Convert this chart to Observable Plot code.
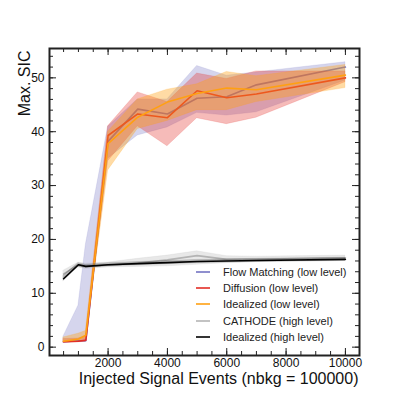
<!DOCTYPE html>
<html>
<head>
<meta charset="utf-8">
<script src="https://cdn.jsdelivr.net/npm/d3@7"></script>
<script src="https://cdn.jsdelivr.net/npm/@observablehq/plot@0.6"></script>
<style>
  body { margin: 0; background: #fff; }
  #wrap { position: relative; width: 399px; height: 399px; font-family: "Liberation Sans", Arial, Helvetica, sans-serif; }
  #legend { position: absolute; left: 196px; top: 264px; font-size: 11px; color: #222; }
  #legend .row { display: flex; align-items: center; height: 16.2px; white-space: nowrap; }
  #legend svg { margin-right: 13px; }
</style>
</head>
<body>
<div id="wrap"></div>
<script>
// Injected signal events (x values)
const signalEvents = [500, 1000, 1250, 2000, 3000, 4000, 5000, 6000, 7000, 10000];

// Flow Matching (low level)
const flowMean = [1.0, 1.2, 1.2, 38.2, 44.2, 43.3, 46.2, 46.5, 48.7, 52.0];
const flowLow  = [0.8, 1.0, 1.0, 35.0, 39.3, 40.8, 43.5, 43.0, 43.6, 49.5];
const flowHigh = [2.0, 7.7, 19.0, 40.9, 46.0, 46.0, 52.2, 50.4, 51.0, 52.9];

// Diffusion (low level)
const diffMean = [1.0, 1.1, 1.3, 39.3, 43.3, 42.6, 47.6, 46.3, 47.0, 50.0];
const diffLow  = [0.8, 0.9, 1.0, 34.5, 41.0, 37.3, 42.5, 41.4, 42.6, 49.2];
const diffHigh = [1.5, 1.6, 2.0, 41.0, 47.3, 45.5, 50.8, 49.8, 51.2, 51.2];

// Idealized (low level)
const idealLoMean = [1.1, 1.5, 2.2, 37.8, 42.7, 45.5, 47.1, 48.1, 47.8, 50.5];
const idealLoLow  = [0.9, 1.2, 1.5, 32.8, 40.5, 42.0, 44.0, 44.0, 45.5, 48.1];
const idealLoHigh = [1.8, 2.5, 3.0, 40.0, 46.0, 47.8, 48.8, 51.1, 50.3, 52.4];

// CATHODE (high level)
const cathMean = [13.6, 15.3, 15.0, 15.2, 15.6, 16.2, 17.0, 16.3, 16.3, 16.6];
const cathLow  = [12.8, 14.8, 14.5, 14.8, 14.9, 15.0, 15.3, 15.6, 15.8, 16.1];
const cathHigh = [14.2, 15.7, 15.5, 15.7, 16.4, 17.0, 17.8, 16.9, 16.8, 17.0];

// Idealized (high level)
const idealHiMean = [12.7, 15.3, 15.0, 15.3, 15.5, 15.7, 15.9, 16.0, 16.1, 16.3];
const idealHiLow  = [12.3, 14.9, 14.7, 15.0, 15.2, 15.4, 15.6, 15.7, 15.8, 16.0];
const idealHiHigh = [13.3, 15.6, 15.3, 15.6, 15.8, 16.0, 16.2, 16.3, 16.4, 16.6];

const seriesNames = ["Flow Matching (low level)", "Diffusion (low level)", "Idealized (low level)", "CATHODE (high level)", "Idealized (high level)"];
const seriesColors = ["#7373c2", "#e32d25", "#ffa012", "#b4b4b4", "#000000"];
const bandOpacity = [0.3, 0.32, 0.38, 0.3, 0.2];

const xMajor = [2000, 4000, 6000, 8000, 10000];
const xMinor = d3.range(500, 10001, 500);
const yMajor = [0, 10, 20, 30, 40, 50];
const yMinor = d3.range(0, 55, 2);

const xLabel = "Injected Signal Events (nbkg = 100000)";
const yLabel = "Max. SIC";

const seriesData = [
  [flowMean, flowLow, flowHigh],
  [diffMean, diffLow, diffHigh],
  [idealLoMean, idealLoLow, idealLoHigh],
  [cathMean, cathLow, cathHigh],
  [idealHiMean, idealHiLow, idealHiHigh]
];
const tables = seriesData.map(([m, lo, hi]) => signalEvents.map((x, i) => ({x, y: m[i], lo: lo[i], hi: hi[i]})));

const W = 399, H = 399, mL = 49, mR = 40, mT = 48, mB = 44;
const frameW = W - mL - mR, frameH = H - mT - mB;
const majorLen = 7, minorLen = 4;

const marks = [];
tables.forEach((t, k) => {
  marks.push(Plot.areaY(t, {x: "x", y1: "lo", y2: "hi", fill: seriesColors[k], fillOpacity: bandOpacity[k], stroke: seriesColors[k], strokeOpacity: bandOpacity[k] * 0.6, strokeWidth: 0.8}));
  marks.push(Plot.line(t, {x: "x", y: "y", stroke: seriesColors[k], strokeWidth: 1.6}));
});

const tickStyle = {stroke: "#222", strokeWidth: 1};
marks.push(
  // tick labels
  Plot.axisX(xMajor, {anchor: "bottom", tickSize: 0, tickPadding: 3, fontSize: 12, tickFormat: d3.format("d"), label: null}),
  Plot.axisY(yMajor, {anchor: "left", tickSize: 0, tickPadding: 5, fontSize: 12, tickFormat: d3.format("d"), label: null}),
  // inward ticks on all four sides
  Plot.tickX(xMajor, {x: d => d, insetTop: frameH - majorLen, ...tickStyle}),
  Plot.tickX(xMinor, {x: d => d, insetTop: frameH - minorLen, ...tickStyle}),
  Plot.tickX(xMajor, {x: d => d, insetBottom: frameH - majorLen, ...tickStyle}),
  Plot.tickX(xMinor, {x: d => d, insetBottom: frameH - minorLen, ...tickStyle}),
  Plot.tickY(yMajor, {y: d => d, insetRight: frameW - majorLen, ...tickStyle}),
  Plot.tickY(yMinor, {y: d => d, insetRight: frameW - minorLen, ...tickStyle}),
  Plot.tickY(yMajor, {y: d => d, insetLeft: frameW - majorLen, ...tickStyle}),
  Plot.tickY(yMinor, {y: d => d, insetLeft: frameW - minorLen, ...tickStyle}),
  Plot.frame({stroke: "#222", strokeWidth: 2}),
  Plot.text([yLabel], {frameAnchor: "top-left", rotate: -90, textAnchor: "end", dx: -31, dy: 2, fontSize: 16, fill: "#111"}),
  Plot.text([xLabel], {frameAnchor: "bottom-right", textAnchor: "end", dx: -1, dy: 28, fontSize: 16, fill: "#111"})
);

const chart = Plot.plot({
  width: W,
  height: H,
  marginLeft: mL,
  marginRight: mR,
  marginTop: mT,
  marginBottom: mB,
  style: {fontFamily: "'Liberation Sans', Arial, Helvetica, sans-serif", fontSize: "12px", color: "#111", background: "#fff"},
  x: {domain: [25, 10475]},
  y: {domain: [-1.55, 55.45]},
  marks
});

const wrap = document.getElementById("wrap");
wrap.appendChild(chart);

// Legend (inside the axes, lower right)
const legend = document.createElement("div");
legend.id = "legend";
seriesNames.forEach((name, k) => {
  const row = document.createElement("div");
  row.className = "row";
  row.innerHTML = `<svg width="14" height="4"><line x1="0" x2="14" y1="2" y2="2" stroke="${seriesColors[k]}" stroke-width="1.6"/></svg><span>${name}</span>`;
  legend.appendChild(row);
});
wrap.appendChild(legend);
</script>
</body>
</html>
